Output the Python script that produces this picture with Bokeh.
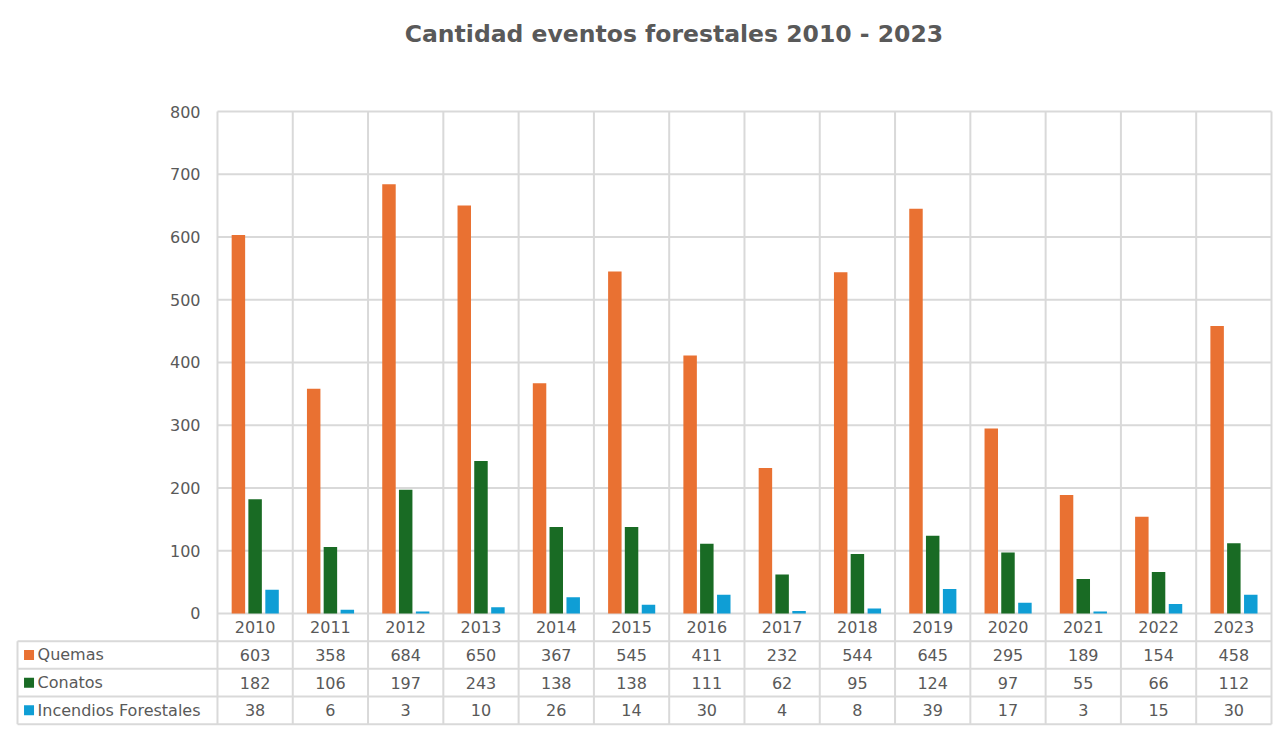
from bokeh.plotting import figure
from bokeh.models import ColumnDataSource, Range1d, FixedTicker
from bokeh.core.properties import value
from bokeh.embed import file_html
from bokeh.resources import INLINE

# ---- data ----
years = ["2010", "2011", "2012", "2013", "2014", "2015", "2016",
         "2017", "2018", "2019", "2020", "2021", "2022", "2023"]
quemas = [603, 358, 684, 650, 367, 545, 411, 232, 544, 645, 295, 189, 154, 458]
conatos = [182, 106, 197, 243, 138, 138, 111, 62, 95, 124, 97, 55, 66, 112]
incendios = [38, 6, 3, 10, 26, 14, 30, 4, 8, 39, 17, 3, 15, 30]
series_names = ["Quemas", "Conatos", "Incendios Forestales"]
colors = ["#E97132", "#196B24", "#0F9ED5"]
y_ticks = [0, 100, 200, 300, 400, 500, 600, 700, 800]
title_text = "Cantidad eventos forestales 2010 - 2023"

FONT = "DejaVu Sans"
TXT = "#595959"
GRID = "#D9D9D9"

n = len(years)
label_w = 2.656      # width of the table's label column, in category units
row_h = 44.1         # height of one table row, in y units
pad_x = 0.04
y_top = 976.9        # room above the value axis for the chart title
y_bot = -4 * row_h - 5.3

p = figure(width=1280, height=733, output_backend="svg", toolbar_location=None,
           x_range=Range1d(-label_w - pad_x, n + pad_x),
           y_range=Range1d(y_bot, y_top),
           min_border_left=14, min_border_right=6, min_border_top=0,
           min_border_bottom=6)
p.outline_line_color = None
p.grid.visible = False
p.xaxis.visible = False

# y axis labels placed inside the frame next to the plot area
yax = p.yaxis[0]
yax.ticker = FixedTicker(ticks=y_ticks)
yax.axis_line_color = None
yax.major_tick_line_color = None
yax.minor_tick_line_color = None
yax.major_tick_out = 0
yax.major_label_standoff = -186
yax.major_label_text_font = FONT
yax.major_label_text_font_size = "16px"
yax.major_label_text_color = TXT

# ---- chart title ----
p.text(x=[6.063], y=[924.3], text=[title_text], text_align="center",
       text_baseline="middle", text_font=value(FONT), text_font_size="23.5px",
       text_font_style="bold", text_color=TXT)

# ---- gridlines and table lines ----
p.segment(x0=[0] * len(y_ticks), x1=[n] * len(y_ticks), y0=y_ticks, y1=y_ticks,
          line_color=GRID, line_width=2)
bx = list(range(n + 1))
p.segment(x0=bx, x1=bx, y0=[y_ticks[-1]] * len(bx), y1=[-4 * row_h] * len(bx),
          line_color=GRID, line_width=2)
ry = [-k * row_h for k in range(1, 5)]
p.segment(x0=[-label_w] * 4, x1=[n] * 4, y0=ry, y1=ry, line_color=GRID, line_width=2)
p.segment(x0=[-label_w], x1=[-label_w], y0=[-row_h], y1=[-4 * row_h],
          line_color=GRID, line_width=2)

# ---- bars ----
offsets = [-0.222, 0.0, 0.225]
bar_w = 0.179
for vals, off, col in zip([quemas, conatos, incendios], offsets, colors):
    src = ColumnDataSource(dict(x=[i + 0.5 + off for i in range(n)], top=vals))
    p.vbar(x="x", top="top", bottom=0, width=bar_w, source=src,
           fill_color=col, line_color=None)

# ---- data table ----
cx = [i + 0.5 for i in range(n)]
p.text(x=cx, y=[-0.5 * row_h] * n, text=years, text_align="center",
       text_baseline="middle", text_font=value(FONT), text_font_size="16px",
       text_color=TXT)
for k, vals in enumerate([quemas, conatos, incendios], start=1):
    yy = -(k + 0.5) * row_h
    p.text(x=cx, y=[yy] * n, text=[str(v) for v in vals], text_align="center",
           text_baseline="middle", text_font=value(FONT), text_font_size="16px",
           text_color=TXT)

leg_y = [-(k + 0.5) * row_h for k in range(1, 4)]
p.scatter(x=[-label_w + 0.153] * 3, y=leg_y, marker="square", size=10,
          fill_color=colors, line_color=None)
p.text(x=[-label_w + 0.266] * 3, y=leg_y, text=series_names, text_align="left",
       text_baseline="middle", text_font=value(FONT), text_font_size="16px",
       text_color=TXT)

open("out.html", "w").write(file_html(p, INLINE))
